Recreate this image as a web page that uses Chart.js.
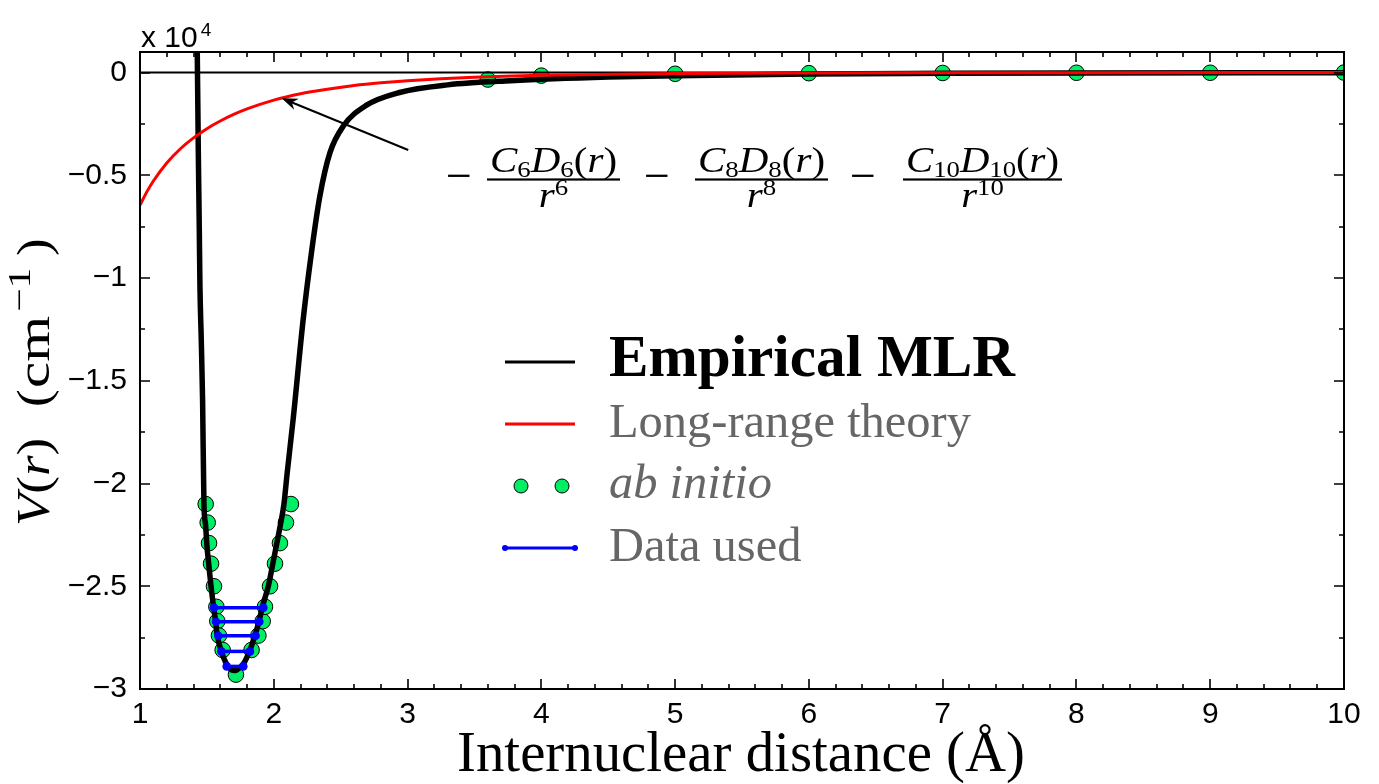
<!DOCTYPE html>
<html>
<head>
<meta charset="utf-8">
<script src="https://cdn.jsdelivr.net/npm/chart.js@4.4.1/dist/chart.umd.min.js"></script>
<style>
  html, body { margin: 0; padding: 0; background: #fff; }
  #wrap { width: 1379px; height: 784px; }
</style>
</head>
<body>
<div id="wrap"><canvas id="potencial" width="1379" height="784"></canvas></div>
<script>
// Curva empirica MLR (r em Angstrom, V em 1e4 cm-1)
const mlrR = [1.420, 1.428, 1.436, 1.443, 1.448, 1.458, 1.468, 1.478, 1.490, 1.500, 1.515, 1.531, 1.550, 1.565,
              1.578, 1.605, 1.640, 1.680, 1.710, 1.740, 1.780, 1.822, 1.859, 1.890, 1.915, 1.959, 1.990, 2.020,
              2.050, 2.076, 2.100, 2.146, 2.220, 2.283, 2.345, 2.420, 2.520, 2.690, 2.940, 3.300, 3.770, 4.500,
              5.000, 6.000, 7.000, 8.000, 10.00];
const mlrV = [0.40, 0.10, -0.39, -0.75, -1.035, -1.30, -1.60, -2.10, -2.20, -2.30, -2.40, -2.50, -2.60, -2.67,
              -2.74, -2.81, -2.87, -2.905, -2.91, -2.90, -2.87, -2.81, -2.74, -2.67, -2.60, -2.50, -2.40, -2.30,
              -2.20, -2.10, -1.95, -1.68, -1.20, -0.87, -0.60, -0.39, -0.26, -0.16, -0.097, -0.06, -0.04, -0.022,
              -0.015, -0.007, -0.004, -0.002, -0.001];

// Teoria de longo alcance
const longR = [1.0, 1.05, 1.1, 1.2, 1.3, 1.4, 1.5, 1.6, 1.7, 1.8, 2.0, 2.2, 2.4, 2.6, 2.8, 3.0, 3.5, 4.0, 5.0, 6.0, 7.0, 8.0, 10.0];
const longV = [-0.645, -0.582, -0.528, -0.440, -0.372, -0.318, -0.273, -0.236, -0.204, -0.177, -0.134, -0.103,
               -0.081, -0.063, -0.050, -0.040, -0.023, -0.0136, -0.0049, -0.0019, -0.0009, -0.0005, -0.0001];

// Pontos ab initio
const abR = [1.491, 1.506, 1.516, 1.531, 1.553, 1.571, 1.578, 1.590, 1.618, 1.717, 1.834, 1.885, 1.917, 1.934,
             1.972, 2.009, 2.046, 2.091, 2.128, 3.6, 4, 5, 6, 7, 8, 9, 10];
const abV = [-2.10, -2.19, -2.29, -2.39, -2.50, -2.60, -2.67, -2.74, -2.81, -2.93, -2.81, -2.74, -2.67, -2.60,
             -2.50, -2.39, -2.29, -2.19, -2.10, -0.034, -0.015, -0.006, -0.003, -0.002, -0.001, -0.001, 0];

// Niveis usados no ajuste (pontos de retorno)
const usedLeft = [1.553, 1.568, 1.585, 1.608, 1.648];
const usedRight = [1.922, 1.892, 1.864, 1.822, 1.772];
const usedV = [-2.604, -2.673, -2.741, -2.817, -2.890];

// Linha do zero
const zeroR = [1, 10];
const zeroV = [0, 0];

// Eixos
const xTicks = [1, 2, 3, 4, 5, 6, 7, 8, 9, 10];
const yTicks = [-3, -2.5, -2, -1.5, -1, -0.5, 0];
const xMinorStep = 0.2;
const yMinorStep = 0.25;

function pts(xs, ys) { return xs.map((x, i) => ({ x: x, y: ys[i] })); }
function fmt(v) { return v < 0 ? '\u2212' + Math.abs(v) : String(v); }

const SERIF = "'Liberation Serif', 'DejaVu Serif', serif";
const SANS = "'Liberation Sans', Arial, sans-serif";

const datasets = [];
usedV.forEach((v, i) => datasets.push({
    label: 'Data used',
    data: [{ x: usedLeft[i], y: v }, { x: usedRight[i], y: v }],
    showLine: true,
    borderColor: '#0000ff',
    backgroundColor: '#0000ff',
    borderWidth: 3.5,
    pointRadius: 4.3,
    pointBorderWidth: 0,
    order: 0
}));
datasets.push({
    label: 'Long-range theory',
    data: pts(longR, longV),
    showLine: true,
    borderColor: '#ff0000',
    borderWidth: 3,
    pointRadius: 0,
    cubicInterpolationMode: 'monotone',
    order: 1
});
datasets.push({
    label: 'Empirical MLR',
    data: pts(mlrR, mlrV),
    showLine: true,
    borderColor: '#000000',
    borderWidth: 5.5,
    pointRadius: 0,
    cubicInterpolationMode: 'monotone',
    order: 2
});
datasets.push({
    label: 'zero',
    data: pts(zeroR, zeroV),
    showLine: true,
    borderColor: '#000000',
    borderWidth: 2,
    pointRadius: 0,
    order: 3
});
datasets.push({
    label: 'ab initio',
    data: pts(abR, abV),
    showLine: false,
    pointRadius: 7.8,
    pointBackgroundColor: '#00ee66',
    pointBorderColor: '#000000',
    pointBorderWidth: 1,
    order: 4
});

// caixa e marcas para dentro, como no original
const moldura = {
    id: 'moldura',
    afterDatasetsDraw(chart) {
        const { ctx, chartArea: a, scales: { x, y } } = chart;
        ctx.save();
        ctx.strokeStyle = '#000';
        ctx.lineWidth = 1.6;
        ctx.beginPath();
        for (let v = xTicks[0]; v <= xTicks[xTicks.length - 1] + 1e-6; v += xMinorStep) {
            const px = Math.round(x.getPixelForValue(v));
            const len = Math.abs(v - Math.round(v)) < 1e-6 ? 10 : 5;
            ctx.moveTo(px, a.bottom); ctx.lineTo(px, a.bottom - len);
            ctx.moveTo(px, a.top); ctx.lineTo(px, a.top + len);
        }
        for (let v = yTicks[0]; v <= yTicks[yTicks.length - 1] + 1e-6; v += yMinorStep) {
            const py = Math.round(y.getPixelForValue(v));
            const len = Math.abs(v * 2 - Math.round(v * 2)) < 1e-6 ? 10 : 5;
            ctx.moveTo(a.left, py); ctx.lineTo(a.left + len, py);
            ctx.moveTo(a.right, py); ctx.lineTo(a.right - len, py);
        }
        ctx.stroke();
        ctx.lineWidth = 2;
        ctx.strokeRect(a.left, a.top, a.right - a.left, a.bottom - a.top);
        ctx.restore();
    }
};

function runsWidth(ctx, runs, k) {
    let w = 0;
    runs.forEach(r => {
        ctx.font = (r.st || 'normal') + ' ' + (r.s * (k || 1)) + 'px ' + (r.f || SERIF);
        w += ctx.measureText(r.t).width;
    });
    return w;
}
// desenha trechos em sequencia; k escala a fonte, sx estica na horizontal
function drawRuns(ctx, runs, x, y, k, sx) {
    k = k || 1;
    ctx.save();
    ctx.translate(x, y);
    ctx.scale(sx || 1, 1);
    let p = 0;
    runs.forEach(r => {
        ctx.font = (r.st || 'normal') + ' ' + (r.s * k) + 'px ' + (r.f || SERIF);
        ctx.fillText(r.t, p, -(r.up || 0) * k);
        p += ctx.measureText(r.t).width;
    });
    ctx.restore();
}
function fitK(ctx, runs, w) { return w / runsWidth(ctx, runs, 1); }

const textos = {
    id: 'textos',
    afterDraw(chart) {
        const { ctx, chartArea: a, scales: { x, y } } = chart;
        ctx.save();
        ctx.fillStyle = '#000';
        ctx.textAlign = 'left';
        ctx.textBaseline = 'alphabetic';

        // fator de escala
        const fator = [{ t: 'x 10', s: 30, f: SANS }];
        drawRuns(ctx, fator, a.left + 1, 47);
        drawRuns(ctx, [{ t: '4', s: 19, f: SANS }], a.left + 4 + runsWidth(ctx, fator), 36);

        // titulo do eixo x
        const xt = [{ t: 'Internuclear distance (\u00c5)', s: 40 }];
        drawRuns(ctx, xt, 457, 771, fitK(ctx, xt, 568));

        // titulo do eixo y, peca por peca ao longo da linha de base
        const yPecas = [
            { at: 0, r: [{ t: 'V', s: 46, st: 'italic' }, { t: '(', s: 46 }, { t: 'r', s: 46, st: 'italic' }, { t: ')', s: 46 }], sx: 1.15 },
            { at: 119, r: [{ t: '(', s: 46 }], sx: 1.15 },
            { at: 138, r: [{ t: 'cm', s: 46 }], sx: 1.28 },
            { at: 214, r: [{ t: '\u22121', s: 32, up: 19 }], sx: 1.3 },
            { at: 270, r: [{ t: ')', s: 46 }], sx: 1.15 }
        ];
        ctx.save();
        ctx.translate(49, 526);
        ctx.rotate(-Math.PI / 2);
        yPecas.forEach(p => drawRuns(ctx, p.r, p.at, 0, 1, p.sx));
        ctx.restore();

        // seta
        const tx = x.getPixelForValue(2.059), ty = y.getPixelForValue(-0.125);
        const sx = x.getPixelForValue(3.005), sy = y.getPixelForValue(-0.377);
        const ang = Math.atan2(ty - sy, tx - sx);
        const c = Math.cos(ang), s = Math.sin(ang);
        ctx.strokeStyle = '#000';
        ctx.lineWidth = 2;
        ctx.beginPath();
        ctx.moveTo(sx, sy);
        ctx.lineTo(tx - 8 * c, ty - 8 * s);
        ctx.stroke();
        ctx.beginPath();
        ctx.moveTo(tx, ty);
        ctx.lineTo(tx - 16 * c + 6 * s, ty - 16 * s - 6 * c);
        ctx.lineTo(tx - 11 * c, ty - 11 * s);
        ctx.lineTo(tx - 16 * c - 6 * s, ty - 16 * s + 6 * c);
        ctx.closePath();
        ctx.fill();

        // formula de longo alcance
        const fx = x.getPixelForValue(3.28), fy = y.getPixelForValue(-0.52);
        const termos = [
            { m: 0, b0: 42, b1: 175, n: '6', d: '6' },
            { m: 198, b0: 250, b1: 383, n: '8', d: '8' },
            { m: 404, b0: 458, b1: 617, n: '10', d: '10' }
        ];
        termos.forEach(tm => {
            drawRuns(ctx, [{ t: '\u2212', s: 46 }], fx + tm.m + 1, fy + 12);
            ctx.fillRect(fx + tm.b0, fy - 1, tm.b1 - tm.b0, 2.2);
            const cx = fx + (tm.b0 + tm.b1) / 2;
            const num = [
                { t: 'C', s: 35, st: 'italic' }, { t: tm.n, s: 23, up: -5 },
                { t: 'D', s: 35, st: 'italic' }, { t: tm.n, s: 23, up: -5 },
                { t: '(', s: 35 }, { t: 'r', s: 35, st: 'italic' }, { t: ')', s: 35 }
            ];
            const nw = runsWidth(ctx, num);
            const sx2 = (tm.b1 - tm.b0 - 6) / nw;
            drawRuns(ctx, num, cx - nw * sx2 / 2, fy - 7, 1, sx2);
            const den = [{ t: 'r', s: 35, st: 'italic' }, { t: tm.d, s: 23, up: 12 }];
            const dw = runsWidth(ctx, den);
            drawRuns(ctx, den, cx - dw * sx2 / 2, fy + 28, 1, sx2);
        });

        // legenda
        const lx0 = 505, lx1 = 575, tx0 = 609;
        const ly = [362, 424, 486, 548];
        ctx.lineWidth = 3.2;
        ctx.strokeStyle = '#000';
        ctx.beginPath(); ctx.moveTo(lx0, ly[0]); ctx.lineTo(lx1, ly[0]); ctx.stroke();
        ctx.lineWidth = 2.8;
        ctx.strokeStyle = '#ff0000';
        ctx.beginPath(); ctx.moveTo(lx0, ly[1]); ctx.lineTo(lx1, ly[1]); ctx.stroke();
        ctx.fillStyle = '#00ee66';
        ctx.strokeStyle = '#000';
        ctx.lineWidth = 1;
        [521, 562].forEach(cx => {
            ctx.beginPath(); ctx.arc(cx, ly[2], 7, 0, Math.PI * 2); ctx.fill(); ctx.stroke();
        });
        ctx.strokeStyle = '#0000ff';
        ctx.fillStyle = '#0000ff';
        ctx.lineWidth = 2.8;
        ctx.beginPath(); ctx.moveTo(lx0, ly[3]); ctx.lineTo(lx1, ly[3]); ctx.stroke();
        [lx0, lx1].forEach(cx => { ctx.beginPath(); ctx.arc(cx, ly[3], 3, 0, Math.PI * 2); ctx.fill(); });

        const l0 = [{ t: 'Empirical MLR', s: 40, st: 'bold' }];
        ctx.fillStyle = '#000';
        drawRuns(ctx, l0, tx0, ly[0] + 14, fitK(ctx, l0, 406));
        const l1 = [{ t: 'Long-range theory', s: 40 }];
        const kg = fitK(ctx, l1, 362);
        ctx.fillStyle = '#666666';
        drawRuns(ctx, l1, tx0, ly[1] + 13, kg);
        drawRuns(ctx, [{ t: 'ab initio', s: 40, st: 'italic' }], tx0, ly[2] + 12, kg);
        drawRuns(ctx, [{ t: 'Data used', s: 40 }], tx0, ly[3] + 13, kg);
        ctx.restore();
    }
};

new Chart(document.getElementById('potencial'), {
    type: 'scatter',
    data: { datasets: datasets },
    options: {
        responsive: false,
        animation: false,
        devicePixelRatio: 1,
        layout: { padding: { top: 52, right: 35, left: 0, bottom: 0 } },
        plugins: { legend: { display: false }, tooltip: { enabled: false } },
        scales: {
            x: {
                type: 'linear',
                min: 1,
                max: 10,
                grid: { display: false, drawTicks: false },
                border: { display: false },
                afterBuildTicks: s => { s.ticks = xTicks.map(v => ({ value: v })); },
                afterFit: s => { s.height = 95; },
                ticks: {
                    font: { family: SANS, size: 30 },
                    color: '#000',
                    padding: 8,
                    maxRotation: 0,
                    autoSkip: false,
                    callback: v => fmt(v)
                }
            },
            y: {
                type: 'linear',
                min: -3,
                max: 0.1,
                grid: { display: false, drawTicks: false },
                border: { display: false },
                afterBuildTicks: s => { s.ticks = yTicks.map(v => ({ value: v })); },
                afterFit: s => { s.width = 140; },
                ticks: {
                    font: { family: SANS, size: 30 },
                    color: '#000',
                    padding: 13,
                    autoSkip: false,
                    callback: v => fmt(v)
                }
            }
        }
    },
    plugins: [moldura, textos]
});
</script>
</body>
</html>
